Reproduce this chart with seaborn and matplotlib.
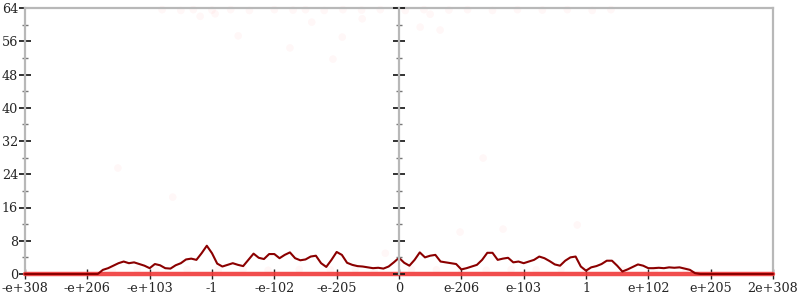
import numpy as np
import pandas as pd
import seaborn as sns
import matplotlib
matplotlib.use("Agg")
import matplotlib.pyplot as plt
from matplotlib.ticker import MultipleLocator

# ---- data -------------------------------------------------------------
tick_labels = ["-e+308", "-e+206", "-e+103", "-1", "-e-102", "-e-205", "0",
               "e-206", "e-103", "1", "e+102", "e+205", "2e+308"]
tick_positions = [-6, -5, -4, -3, -2, -1, 0, 1, 2, 3, 4, 5, 6]

line_values = [
    0, 0, 0, 0, 0, 0, 0, 0, 0, 0, 0, 0, 0, 0, 0,
    1.0, 1.4, 2.0, 2.6, 3.0, 2.6, 2.8, 2.4, 2.0, 1.4, 2.4, 2.1, 1.4, 1.3, 2.1,
    2.6, 3.5, 3.7, 3.4, 5.0, 6.8, 5.0, 2.5, 1.8, 2.2, 2.6, 2.2, 1.9, 3.4, 4.9,
    3.9, 3.6, 4.8, 4.8, 3.8, 4.6, 5.2, 3.8, 3.3, 3.5, 4.2, 4.4, 2.6, 1.7, 3.4,
    5.3, 4.6, 2.7, 2.2, 1.9, 1.8, 1.6, 1.4, 1.5, 1.3, 1.8, 2.8,
    3.9,
    2.7, 2.0, 3.4, 5.2, 4.0, 4.4, 4.6, 3.0, 2.8, 2.6, 2.4, 1.1, 1.4, 1.8, 2.2,
    3.4, 5.1, 5.1, 3.4, 3.7, 3.9, 2.8, 3.0, 2.6, 3.0, 3.4, 4.2, 3.8, 3.1, 2.3,
    2.0, 3.2, 4.0, 4.2, 1.8, 0.8, 1.6, 1.9, 2.4, 3.2, 3.2, 2.0, 0.6, 1.1, 1.7,
    2.3, 2.0, 1.4, 1.4, 1.5, 1.4, 1.6, 1.5, 1.6, 1.3, 1.0, 0.2,
    0, 0, 0, 0, 0, 0, 0, 0, 0, 0, 0, 0, 0, 0, 0,
]
baseline_values = [0] * len(line_values)

dots_x = [-4.51, -3.63, -3.19, -2.95, -2.58, -1.75, -1.40, -0.91, -1.06, -0.59,
          0.34, 0.66, 0.50, 0.98, 1.67, 2.86, -0.22, 1.35,
          -3.8, -3.5, -3.3, -3.0, -2.7, -2.4, -2.0, -1.7, -1.5, -1.2, -0.9,
          -0.6, -0.3, 0.1, 0.4, 0.8, 1.1, 1.5, 1.9, 2.3, 2.7, 3.1, 3.4,
          -4.6, -4.2, -3.9, -3.4, -2.9, -2.5, -2.1, -1.6, -1.1, -0.7, -0.4,
          0.2, 0.6, 1.0, 1.4, 1.8, 2.2, 2.6, 3.0, 3.6, 4.1, 4.6]
dots_y = [25.5, 18.5, 62.0, 62.6, 57.3, 54.4, 60.6, 57.0, 51.7, 61.4,
          59.4, 58.7, 62.5, 10.1, 10.8, 11.8, 5.0, 27.9,
          63.6, 63.4, 63.6, 63.5, 63.6, 63.4, 63.6, 63.5, 63.6, 63.4, 63.6,
          63.5, 63.6, 63.4, 63.6, 63.5, 63.6, 63.4, 63.6, 63.5, 63.6, 63.4,
          63.6,
          1.0, 1.2, 0.9, 1.1, 1.0, 1.2, 0.9, 1.1, 1.0, 1.2, 0.9,
          1.1, 1.0, 1.2, 0.9, 1.1, 1.0, 1.2, 0.9, 1.1, 1.0, 1.2]

# ---- frame ------------------------------------------------------------
bin_pos = np.linspace(tick_positions[0], tick_positions[-1], len(line_values))
df = pd.DataFrame({"x": bin_pos, "count": line_values, "base": baseline_values})
dots = pd.DataFrame({"x": dots_x, "y": dots_y})

sns.set_style("white")
plt.rcParams["font.family"] = ["DejaVu Serif"]

fig = plt.figure(figsize=(8, 3), dpi=100)
ax = fig.add_axes([25 / 800, 1 - 274 / 300, 748 / 800, 266 / 300])

sns.scatterplot(data=dots, x="x", y="y", ax=ax, color="#ff2020", alpha=0.035,
                s=30, edgecolor="none", zorder=2, clip_on=False)
sns.lineplot(data=df, x="x", y="base", ax=ax, color="#f03a3a", linewidth=3.2,
             zorder=3, clip_on=False, alpha=0.9)
sns.lineplot(data=df, x="x", y="count", ax=ax, color="#8b0000", linewidth=1.5,
             zorder=4, clip_on=False)

ax.set_xlim(-6, 6)
ax.set_ylim(0, 64)
ax.set_xlabel("")
ax.set_ylabel("")
ax.set_xticks(tick_positions)
ax.set_xticklabels(tick_labels)
ax.yaxis.set_major_locator(MultipleLocator(8))
ax.yaxis.set_minor_locator(MultipleLocator(4))

spine_color = "#b8b8b8"
for side in ["left", "right", "top"]:
    ax.spines[side].set_visible(True)
    ax.spines[side].set_color(spine_color)
    ax.spines[side].set_linewidth(1.6)
ax.spines["bottom"].set_visible(False)

ax.tick_params(axis="x", which="major", direction="inout", length=7, width=1,
               color="#222222", labelsize=9.2, pad=2, bottom=True)
ax.tick_params(axis="y", which="major", direction="inout", length=8, width=1.2,
               color="#111111", labelsize=9.2, pad=1, left=True, right=True,
               labelright=False)
ax.tick_params(axis="y", which="minor", direction="inout", length=4, width=1,
               color="#777777", left=True, right=True)

# center axis at x = 0
ax2 = ax.twinx()
ax2.set_ylim(0, 64)
ax2.yaxis.set_major_locator(MultipleLocator(8))
ax2.yaxis.set_minor_locator(MultipleLocator(4))
ax2.yaxis.set_ticks_position("left")
ax2.spines["left"].set_position(("data", 0))
ax2.spines["left"].set_visible(True)
ax2.spines["left"].set_color(spine_color)
ax2.spines["left"].set_linewidth(1.6)
for side in ["right", "top", "bottom"]:
    ax2.spines[side].set_visible(False)
ax2.tick_params(axis="y", which="major", direction="inout", length=8, width=1.2,
                color="#111111", labelleft=False, labelright=False)
ax2.tick_params(axis="y", which="minor", direction="inout", length=4, width=1,
                color="#777777")
ax2.set_ylabel("")

fig.savefig("out.png", dpi=100, facecolor="white")
